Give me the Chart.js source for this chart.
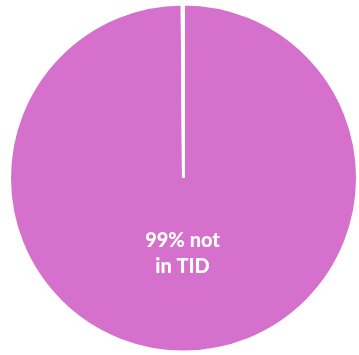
<!DOCTYPE html>
<html>
<head>
<meta charset="utf-8">
<script src="https://cdn.jsdelivr.net/npm/chart.js@4"></script>
<style>
  html, body { margin: 0; padding: 0; background: #fff; }
  #wrap { width: 359px; height: 355px; }
</style>
</head>
<body>
<div id="wrap"><canvas id="pieChart"></canvas></div>
<script>
const categories = ['not in TID', 'in TID'];
const shares = [99, 0.12];
const sliceLabel = ['99% not', 'in TID'];
const pieColor = '#d670cd';

// writes the label inside the big slice
const labelPlugin = {
  id: 'sliceLabel',
  afterDatasetsDraw(chart) {
    const arc = chart.getDatasetMeta(0).data[0];
    if (!arc) return;
    const ctx = chart.ctx;
    const r = arc.outerRadius;
    ctx.save();
    ctx.fillStyle = '#ffffff';
    ctx.font = '900 20px Lato, "Open Sans", sans-serif';
    ctx.textAlign = 'center';
    ctx.textBaseline = 'middle';
    const cy = arc.y + r * 0.435;
    ctx.fillText(sliceLabel[0], arc.x - 1, cy - 13);
    ctx.fillText(sliceLabel[1], arc.x - 1, cy + 13);
    ctx.restore();
  }
};

new Chart(document.getElementById('pieChart').getContext('2d'), {
  type: 'pie',
  data: {
    labels: categories,
    datasets: [{
      data: shares,
      backgroundColor: [pieColor, pieColor],
      borderColor: '#ffffff',
      borderWidth: 3
    }]
  },
  options: {
    responsive: true,
    maintainAspectRatio: false,
    animation: false,
    rotation: 0,
    layout: { padding: { left: 8, right: 0, top: 1, bottom: 0 } },
    plugins: {
      legend: { display: false },
      tooltip: { enabled: false }
    }
  },
  plugins: [labelPlugin]
});
</script>
</body>
</html>
